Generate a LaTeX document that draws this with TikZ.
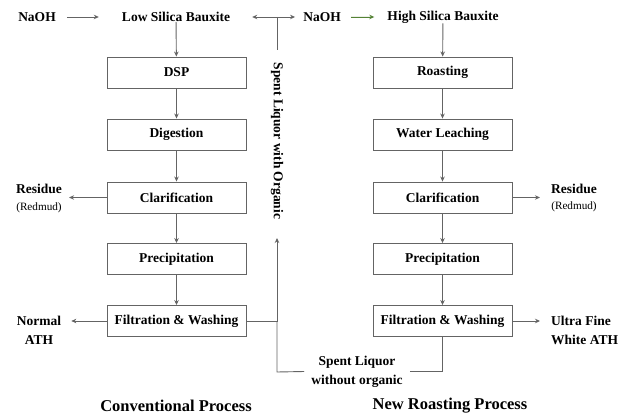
\documentclass[tikz,border=0pt]{standalone}
\usepackage{fontspec}
\setmainfont{Liberation Serif}
\usetikzlibrary{arrows.meta}
\definecolor{linegray}{RGB}{100,100,100}
\definecolor{naohgreen}{RGB}{84,130,53}

\begin{document}
\begin{tikzpicture}
[   x=1pt, y=-1pt,
    box/.style={draw=linegray, line width=0.9pt, minimum width=139pt, minimum height=31pt, inner sep=0pt, font=\bfseries\fontsize{13.5}{16}\selectfont},
    lbl/.style={inner sep=0pt, font=\bfseries\fontsize{13.5}{19}\selectfont},
    sub/.style={inner sep=0pt, font=\fontsize{11.2}{13}\selectfont},
    title/.style={inner sep=0pt, font=\bfseries\fontsize{16.5}{18}\selectfont},
    flow/.style={draw=linegray, line width=0.9pt},
    >={Stealth[length=5pt,width=4.5pt]},
]
\useasboundingbox (0,0) rectangle (626,414);

\node[lbl] (N1) at (37,17) {NaOH};
\node[lbl] (S1) at (176,17) {Low Silica Bauxite};
\node[lbl] (N2) at (322,17) {NaOH};
\node[lbl] (S2) at (443,17) {High Silica Bauxite};

\node[box] (A1) at (176.5,72.5) {DSP};
\node[box] (A2) at (176.5,134.5) {Digestion};
\node[box] (A3) at (176.5,197.5) {Clarification};
\node[box] (A4) at (176.5,259) {Precipitation};
\node[box] (A5) at (176.5,321) {Filtration \& Washing};

\node[box] (B1) at (442.5,72.5) {Roasting};
\node[box] (B2) at (442.5,134.5) {Water Leaching};
\node[box] (B3) at (442.5,197.5) {Clarification};
\node[box] (B4) at (442.5,259) {Precipitation};
\node[box] (B5) at (442.5,321) {Filtration \& Washing};

\node[lbl] (R1) at (39,189) {Residue};
\node[sub] (M1) at (39,208) {(Redmud)};
\node[lbl, align=center] (O1) at (39,330) {Normal\\ATH};
\node[lbl] (R2) at (574,189) {Residue};
\node[sub] (M2) at (574,207) {(Redmud)};
\node[lbl, align=left, anchor=west] (O2) at (551,330) {Ultra Fine\\White ATH};

\node[lbl, rotate=-90] (SL) at (277,141) {Spent Liquor with Organic};
\node[lbl, align=center, inner xsep=7pt] (SW) at (357,371.5) {Spent Liquor\\without organic};

\node[title] (T1) at (176,406) {Conventional Process};
\node[title] (T2) at (450,406) {New Roasting Process};

\coordinate (J1) at (277,17);
\coordinate (J2) at (277,50);
\coordinate (J3) at (277,238);
\coordinate (J4) at (277,321);
\coordinate (J5) at (277,372);

% feeds
\draw[flow, ->] ([xshift=11pt]N1.east) -- ([xshift=-23pt]S1.west);
\draw[flow, ->, draw=naohgreen, fill=naohgreen] ([xshift=10pt]N2.east) -- ([xshift=-13pt]S2.west);
\draw[flow, <->] ([xshift=22pt]S1.east) -- ([xshift=-8pt]N2.west);
\draw[flow] (J1) -- (J2);

% conventional process
\draw[flow, ->] (S1) -- (A1);
\draw[flow, ->] (A1) -- (A2);
\draw[flow, ->] (A2) -- (A3);
\draw[flow, ->] (A3) -- (A4);
\draw[flow, ->] (A4) -- (A5);
\draw[flow, ->, shorten >=7pt] (A3.west) -- (A3.west -| R1.east);
\draw[flow, ->, shorten >=10pt] (A5.west) -- (A5.west -| O1.east);

% new roasting process
\draw[flow, ->] (S2) -- (B1);
\draw[flow, ->] (B1) -- (B2);
\draw[flow, ->] (B2) -- (B3);
\draw[flow, ->] (B3) -- (B4);
\draw[flow, ->] (B4) -- (B5);
\draw[flow, ->, shorten >=11pt] (B3.east) -- (B3.east -| R2.west);
\draw[flow, ->, shorten >=11pt] (B5.east) -- (B5.east -| O2.west);

% spent liquor return
\draw[flow, ->] (A5.east) -- (J4) -- (J3);
\draw[flow] (J4) -- (J5) -- (SW.west);
\draw[flow] (SW.east) -- (SW.east -| B5.south) -- (B5.south);

\end{tikzpicture}
\end{document}
